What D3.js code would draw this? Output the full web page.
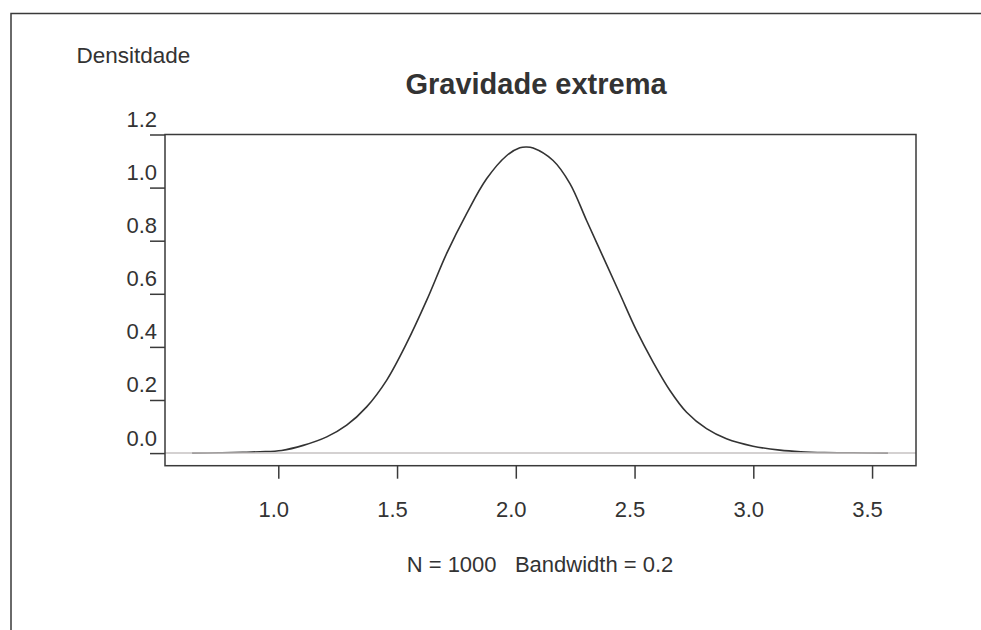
<!DOCTYPE html>
<html>
<head>
<meta charset="utf-8">
<script src="https://cdn.jsdelivr.net/npm/d3@7"></script>
<style>
    body { margin: 0; background: #fff; }
    text { font-family: "Liberation Sans", Arial, Helvetica, sans-serif; fill: #333; }
</style>
</head>
<body>
<svg></svg>
<script>
var width = 981, height = 630;

// density estimate
var densX = [0.637, 0.75, 0.85, 0.923, 1.014, 1.105, 1.204, 1.288, 1.372, 1.456, 1.540, 1.625, 1.709, 1.793, 1.877, 1.961, 2.017, 2.045,
             2.073, 2.157, 2.228, 2.298, 2.368, 2.438, 2.508, 2.578, 2.649, 2.719, 2.803, 2.887, 2.999, 3.112, 3.2, 3.3, 3.42, 3.567];
var densY = [0.000, 0.001, 0.003, 0.005, 0.010, 0.029, 0.061, 0.105, 0.174, 0.274, 0.413, 0.576, 0.752, 0.902, 1.033, 1.120, 1.150, 1.153,
             1.149, 1.102, 1.015, 0.876, 0.738, 0.600, 0.462, 0.343, 0.236, 0.154, 0.092, 0.054, 0.026, 0.011, 0.005, 0.002, 0.001, 0.000];

var xTicks = [1.0, 1.5, 2.0, 2.5, 3.0, 3.5];
var yTicks = [0.0, 0.2, 0.4, 0.6, 0.8, 1.0, 1.2];

var titleText = 'Gravidade extrema';
var yLabelText = 'Densitdade';
var subText = 'N = 1000   Bandwidth = 0.2';

var box = {left: 165, right: 916, top: 134.5, bottom: 465.7};

var x = d3.scaleLinear()
            .domain([0.523, 3.685])
            .range([box.left, box.right]);

var y = d3.scaleLinear()
            .domain([-0.0475, 1.2])
            .range([box.bottom, box.top]);

var svg = d3.select('svg')
                .attr('width', width)
                .attr('height', height);

// outer frame (runs off the page at right and bottom)
svg.append('rect')
    .attr('x', 11)
    .attr('y', 13.5)
    .attr('width', 1200)
    .attr('height', 900)
    .attr('fill', 'none')
    .attr('stroke', '#3a3a3a')
    .attr('stroke-width', 1.5);

var points = densX.map((d, i) => ({x: d, y: densY[i]}));

var line = d3.line()
                .x(d => x(d.x))
                .y(d => y(d.y))
                .curve(d3.curveCatmullRom.alpha(0.5));

svg.append('path')
    .datum(points)
    .attr('d', line)
    .attr('fill', 'none')
    .attr('stroke', '#333')
    .attr('stroke-width', 1.6);

// zero line
svg.append('line')
    .attr('x1', box.left)
    .attr('x2', box.right)
    .attr('y1', y(0))
    .attr('y2', y(0))
    .attr('stroke', '#c6c2c2')
    .attr('stroke-width', 1.5);

svg.append('rect')
    .attr('x', box.left)
    .attr('y', box.top)
    .attr('width', box.right - box.left)
    .attr('height', box.bottom - box.top)
    .attr('fill', 'none')
    .attr('stroke', '#3a3a3a')
    .attr('stroke-width', 1.5);

// axes
var yAxis = svg.append('g')
                .attr('transform', `translate(${box.left},0)`)
                .call(d3.axisLeft(y).tickValues(yTicks).tickSize(15).tickFormat(d3.format('.1f')));

var xAxis = svg.append('g')
                .attr('transform', `translate(0,${box.bottom})`)
                .call(d3.axisBottom(x).tickValues(xTicks).tickSize(13).tickFormat(d3.format('.1f')));

svg.selectAll('.domain').remove();
svg.selectAll('.tick line')
    .attr('stroke', '#3a3a3a')
    .attr('stroke-width', 1.5);

yAxis.selectAll('text')
    .attr('x', -8)
    .attr('y', -8)
    .attr('dy', 0)
    .style('font-size', '22px')
    .style('font-family', '"Liberation Sans", Arial, sans-serif')
    .attr('fill', '#333');

xAxis.selectAll('text')
    .attr('y', 51)
    .attr('dy', 0)
    .attr('dx', -5)
    .style('font-size', '22px')
    .style('font-family', '"Liberation Sans", Arial, sans-serif')
    .attr('fill', '#333');

// texts
svg.append('text')
    .attr('x', 536)
    .attr('y', 94)
    .attr('text-anchor', 'middle')
    .style('font-size', '29px')
    .style('font-weight', 'bold')
    .text(titleText);

svg.append('text')
    .attr('x', 76.5)
    .attr('y', 63)
    .style('font-size', '22.5px')
    .text(yLabelText);

svg.append('text')
    .attr('x', 540)
    .attr('y', 571.5)
    .attr('text-anchor', 'middle')
    .style('font-size', '22px')
    .style('white-space', 'pre')
    .text(subText);
</script>
</body>
</html>
